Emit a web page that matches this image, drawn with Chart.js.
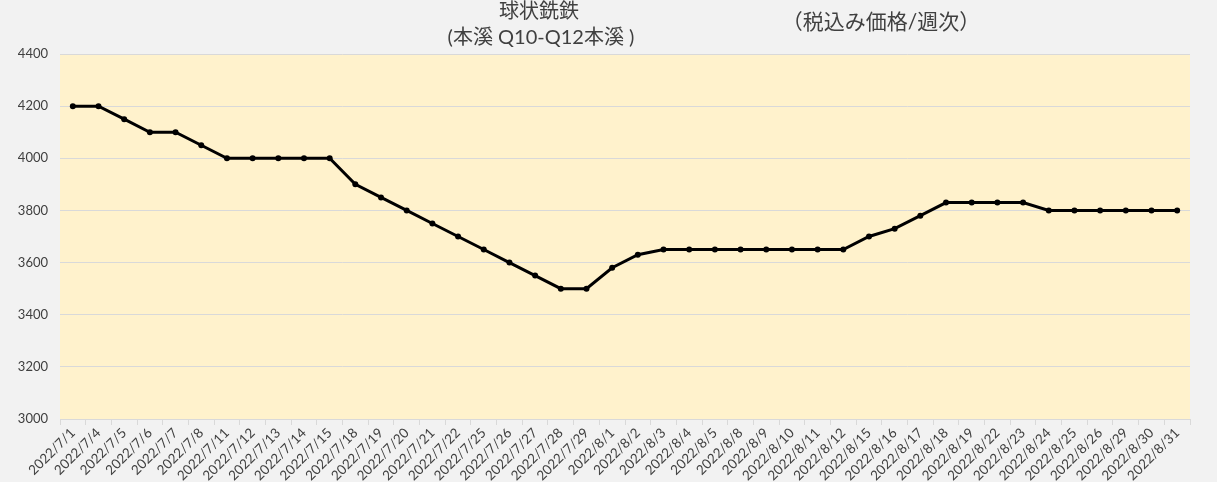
<!DOCTYPE html>
<html>
<head>
<meta charset="utf-8">
<script src="https://cdn.jsdelivr.net/npm/chart.js@4"></script>
<style>
html,body{margin:0;padding:0;background:#F2F2F2;}
#wrap{position:relative;width:1217px;height:482px;}
</style>
</head>
<body>
<div id="wrap"><canvas id="c" width="1217" height="482"></canvas></div>
<script>
const categories = ["2022/7/1","2022/7/4","2022/7/5","2022/7/6","2022/7/7","2022/7/8","2022/7/11","2022/7/12","2022/7/13","2022/7/14","2022/7/15","2022/7/18","2022/7/19","2022/7/20","2022/7/21","2022/7/22","2022/7/25","2022/7/26","2022/7/27","2022/7/28","2022/7/29","2022/8/1","2022/8/2","2022/8/3","2022/8/4","2022/8/5","2022/8/8","2022/8/9","2022/8/10","2022/8/11","2022/8/12","2022/8/15","2022/8/16","2022/8/17","2022/8/18","2022/8/19","2022/8/22","2022/8/23","2022/8/24","2022/8/25","2022/8/26","2022/8/29","2022/8/30","2022/8/31"];
const prices = [4200,4200,4150,4100,4100,4050,4000,4000,4000,4000,4000,3900,3850,3800,3750,3700,3650,3600,3550,3500,3500,3580,3630,3650,3650,3650,3650,3650,3650,3650,3650,3700,3730,3780,3830,3830,3830,3830,3800,3800,3800,3800,3800,3800];
const yTicks = [3000,3200,3400,3600,3800,4000,4200,4400];
const titleLines = ["球状銑鉄","(本溪 Q10-Q12本溪 )"];
const subTitle = "（税込み価格/週次）";

const FONT = "Lato, 'Noto Sans CJK JP', sans-serif";
const TXT = '#404040';

const plotBg = {
  id:'plotBg',
  beforeDraw(chart){
    const {ctx, chartArea:a} = chart;
    ctx.save();
    ctx.fillStyle = '#FFF2CC';
    ctx.fillRect(a.left, a.top, a.right-a.left, a.bottom-a.top);
    ctx.restore();
  },
  afterDraw(chart){
    const ctx = chart.ctx;
    ctx.save();
    ctx.fillStyle = TXT;
    ctx.textAlign = 'center';
    ctx.textBaseline = 'middle';
    ctx.font = "20px " + FONT;
    ctx.fillText(titleLines[0], 539, 12);
    ctx.fillText(titleLines[1], 541, 38);
    ctx.font = "21px " + FONT;
    ctx.fillText(subTitle, 881, 22);
    ctx.restore();
  }
};

new Chart(document.getElementById('c'), {
  type:'line',
  data:{
    labels:categories,
    datasets:[{
      data:prices,
      borderColor:'#000000',
      backgroundColor:'#000000',
      borderWidth:3,
      pointRadius:3,
      pointBorderWidth:0,
      pointBackgroundColor:'#000000',
      tension:0
    }]
  },
  options:{
    responsive:false,
    animation:false,
    layout:{padding:{top:54,right:27,left:0,bottom:0}},
    plugins:{legend:{display:false},title:{display:false},tooltip:{enabled:false}},
    scales:{
      x:{
        offset:true,
        grid:{offset:true,drawOnChartArea:false,drawTicks:true,tickLength:6,color:'#D9D9D9'},
        border:{display:true,color:'#D9D9D9',width:1},
        ticks:{color:TXT,font:{family:FONT,size:13.5},maxRotation:45,minRotation:45,autoSkip:false,padding:0},
        afterFit(s){s.height=63;}
      },
      y:{
        min:3000,max:4400,
        afterBuildTicks(s){s.ticks = yTicks.map(v=>({value:v}));},
        grid:{color:'#D9D9D9',drawTicks:false,lineWidth:1},
        border:{display:false},
        ticks:{color:TXT,font:{family:FONT,size:13},padding:12,callback:(v)=>String(v)},
        afterFit(s){s.width=60;}
      }
    }
  },
  plugins:[plotBg]
});
</script>
</body>
</html>
